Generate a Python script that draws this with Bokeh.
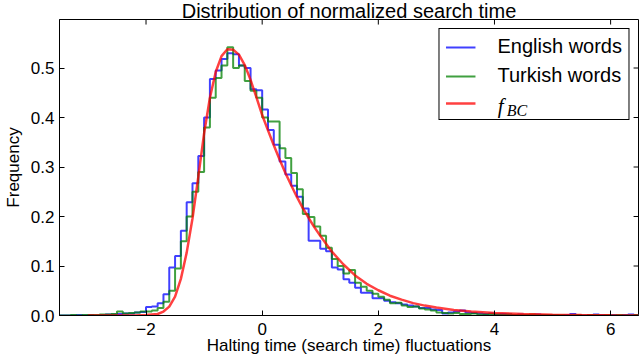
import numpy as np
from bokeh.plotting import figure
from bokeh.models import (Range1d, FixedTicker, Legend, LegendItem, Label,
                          CustomJSTickFormatter)
from bokeh.embed import file_html
from bokeh.resources import INLINE

# ---------------- data ----------------
bin_start = -3.5
bin_width = 0.1
n_bins = 100

english = [0, 0, 0, 0.001, 0, 0.001, 0, 0.001, 0.002, 0.002,
           0.003, 0.004, 0.004, 0.006, 0.007, 0.017, 0.018, 0.025, 0.043, 0.097,
           0.120, 0.171, 0.229, 0.267, 0.322, 0.400, 0.478, 0.495, 0.518, 0.530,
           0.528, 0.505, 0.500, 0.457, 0.455, 0.416, 0.375, 0.345, 0.311, 0.285,
           0.262, 0.240, 0.216, 0.151, 0.151, 0.135, 0.130, 0.097, 0.093, 0.073,
           0.066, 0.056, 0.046, 0.046, 0.035, 0.035, 0.030, 0.027, 0.025, 0.022,
           0.020, 0.018, 0.015, 0.015, 0.012, 0.011, 0.004, 0.006, 0.008, 0.010,
           0.006, 0.005, 0.004, 0.003, 0.004, 0.002, 0.003, 0.002, 0.001, 0.002,
           0.001, 0.001, 0.002, 0.001, 0.001, 0.001, 0, 0.001, 0.003, 0.001,
           0, 0.001, 0.002, 0.001, 0, 0.001, 0, 0.001, 0.002, 0.001]

turkish = [0, 0, 0.001, 0, 0.001, 0.001, 0.001, 0.002, 0.002, 0.003,
           0.008, 0.004, 0.005, 0.006, 0.008, 0.008, 0.010, 0.015, 0.028, 0.050,
           0.095, 0.150, 0.200, 0.250, 0.290, 0.380, 0.440, 0.480, 0.505, 0.542,
           0.500, 0.505, 0.474, 0.454, 0.440, 0.400, 0.392, 0.392, 0.338, 0.318,
           0.288, 0.255, 0.205, 0.199, 0.180, 0.161, 0.137, 0.114, 0.100, 0.085,
           0.092, 0.066, 0.058, 0.050, 0.044, 0.038, 0.032, 0.025, 0.026, 0.020,
           0.017, 0.018, 0.014, 0.012, 0.010, 0.006, 0.005, 0.004, 0.005, 0.003,
           0.003, 0.004, 0.002, 0.002, 0.003, 0.002, 0.001, 0.002, 0.001, 0.001,
           0.001, 0.002, 0.001, 0.001, 0.001, 0.001, 0.001, 0, 0.001, 0.001,
           0, 0.001, 0.001, 0, 0.001, 0, 0.001, 0, 0, 0.001]

fbc_x = [-3.0, -2.2, -2.0, -1.8, -1.7, -1.6, -1.5, -1.4, -1.3, -1.2, -1.1, -1.0,
         -0.9, -0.8, -0.7, -0.6, -0.5, -0.4, -0.3, -0.2, -0.1, 0.0, 0.1, 0.2,
         0.3, 0.4, 0.5, 0.6, 0.7, 0.8, 0.9, 1.0, 1.2, 1.4, 1.6, 1.8, 2.0, 2.2,
         2.4, 2.6, 2.8, 3.0, 3.3, 3.6, 4.0, 4.5, 5.0, 5.5, 6.0, 6.48]
fbc_y = [0.0, 0.0, 0.001, 0.003, 0.008, 0.018, 0.038, 0.074, 0.127, 0.196, 0.280, 0.368,
         0.440, 0.492, 0.524, 0.538, 0.537, 0.527, 0.506, 0.476, 0.441, 0.405, 0.374, 0.344,
         0.315, 0.288, 0.263, 0.239, 0.217, 0.197, 0.178, 0.161, 0.129, 0.103, 0.081, 0.064,
         0.051, 0.040, 0.032, 0.025, 0.020, 0.016, 0.011, 0.008, 0.005, 0.003, 0.0015, 0.0008,
         0.0004, 0.0002]

x_ticks = [-2, 0, 2, 4, 6]
y_ticks = [0.0, 0.1, 0.2, 0.3, 0.4, 0.5]

X_MIN, X_MAX = -3.49, 6.48
Y_MIN, Y_MAX = 0.0, 0.598

FONT = "Liberation Sans"

# ---------------- helpers ----------------
edges = bin_start + bin_width * np.arange(n_bins + 1)


def step_outline(vals):
    v = np.asarray(vals, dtype=float)
    xs = np.repeat(edges, 2)
    ys = np.concatenate([[0.0], np.repeat(v, 2), [0.0]])
    return xs, ys


p = figure(width=640, height=357,
           x_range=Range1d(X_MIN, X_MAX), y_range=Range1d(Y_MIN, Y_MAX),
           output_backend="svg", toolbar_location=None,
           title="Distribution of normalized search time",
           min_border=0, min_border_left=50, min_border_right=2,
           min_border_top=0, min_border_bottom=0)

p.title.text_font = FONT
p.title.text_font_size = "20px"
p.title.text_font_style = "normal"
p.title.text_color = "black"
p.title.align = "center"
p.title.standoff = -5
p.title.text_line_height = 1.0

p.xgrid.visible = False
p.ygrid.visible = False
p.outline_line_color = "black"
p.outline_line_alpha = 1.0
p.outline_line_width = 1
p.background_fill_color = "white"
p.border_fill_color = "white"

# histograms and the fitted curve
bx, by = step_outline(english)
gx, gy = step_outline(turkish)
r_en = p.line(bx, by, line_color="blue", line_alpha=0.75, line_width=2)
r_tr = p.line(gx, gy, line_color="green", line_alpha=0.75, line_width=2)
r_fbc = p.line(fbc_x, fbc_y, line_color="red", line_alpha=0.75, line_width=2.5)

# inward ticks on the top and right edges (matplotlib classic style)
tick_dy = 0.0102
tick_dx = 0.085
p.segment(x0=x_ticks, x1=x_ticks, y0=[Y_MAX] * len(x_ticks), y1=[Y_MAX - tick_dy] * len(x_ticks),
          line_color="black", line_width=1)
p.segment(x0=[X_MAX] * len(y_ticks), x1=[X_MAX - tick_dx] * len(y_ticks), y0=y_ticks, y1=y_ticks,
          line_color="black", line_width=1)

minus_fmt = CustomJSTickFormatter(code="return tick < 0 ? '\u2212' + Math.abs(tick) : tick.toString();")
y_fmt = CustomJSTickFormatter(code="return tick.toFixed(1);")


def style_axis(ax):
    ax.major_tick_in = 5
    ax.major_tick_out = 0
    ax.minor_tick_line_color = None
    ax.axis_line_color = "black"
    ax.major_tick_line_color = "black"
    ax.major_label_text_font = FONT
    ax.major_label_text_font_size = "17px"
    ax.major_label_text_color = "black"
    ax.major_label_text_line_height = 1.0
    ax.axis_label_text_font = FONT
    ax.axis_label_text_font_size = "17px"
    ax.axis_label_text_font_style = "normal"
    ax.axis_label_text_color = "black"
    ax.axis_label_text_line_height = 1.0


xa = p.xaxis[0]
xa.ticker = FixedTicker(ticks=x_ticks)
xa.formatter = minus_fmt
xa.axis_label = "Halting time (search time) fluctuations"
style_axis(xa)
xa.major_label_standoff = 7
xa.axis_label_standoff = -2

ya = p.yaxis[0]
ya.ticker = FixedTicker(ticks=y_ticks)
ya.formatter = y_fmt
ya.axis_label = "Frequency"
style_axis(ya)
ya.major_label_standoff = 5
ya.axis_label_standoff = 5

legend = Legend(items=[LegendItem(label="English words", renderers=[r_en]),
                       LegendItem(label="Turkish words", renderers=[r_tr]),
                       LegendItem(label=" ", renderers=[r_fbc])],
                location="top_right",
                border_line_color="black", border_line_width=1, border_line_alpha=1,
                background_fill_color=None,
                label_text_font=FONT, label_text_font_size="20px", label_text_color="black",
                glyph_width=30, glyph_height=20, label_height=20,
                spacing=6, padding=6, label_standoff=22, margin=9)
p.add_layout(legend)

p.add_layout(Label(x=4.055, y=0.424, text="f", text_font="Liberation Serif", text_color="black",
                   text_font_style="italic", text_font_size="21px", text_baseline="middle",
                   level="overlay"))
p.add_layout(Label(x=4.21, y=0.415, text="BC", text_font="Liberation Serif", text_color="black",
                   text_font_style="italic", text_font_size="16px", text_baseline="middle",
                   level="overlay"))

open("out.html", "w").write(file_html(p, INLINE))
